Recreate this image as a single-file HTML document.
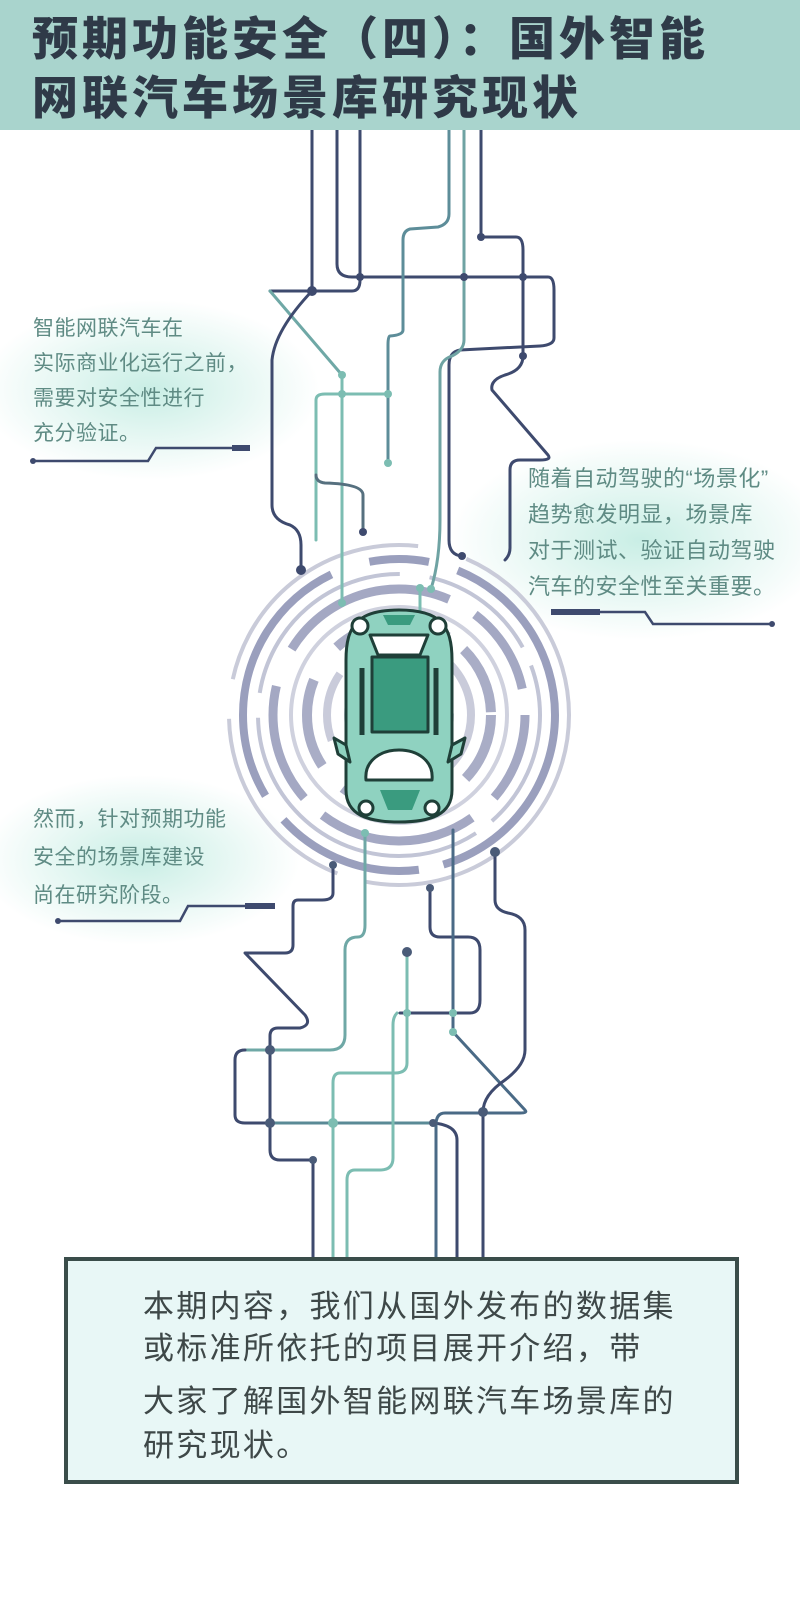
<!DOCTYPE html>
<html><head><meta charset="utf-8"><style>
html,body{margin:0;padding:0}
body{width:800px;height:1600px;position:relative;background:#fff;overflow:hidden;font-family:"Liberation Sans","Noto Sans CJK SC",sans-serif}
.hdr{position:absolute;left:0;top:0;width:800px;height:130px;background:#a9d4cd}
.t{position:absolute;left:32px;font-size:46px;font-weight:900;color:#2f3a48;letter-spacing:4px;white-space:nowrap;line-height:1}
.p{position:absolute;font-size:21px;color:#5f8b84;line-height:35px;white-space:nowrap;letter-spacing:0.5px}
.box{position:absolute;left:64px;top:1257px;width:667px;height:219px;border:4px solid #3a4d4a;background:#e8f7f6}
.bt{position:absolute;left:143px;font-size:31px;color:#3e4848;letter-spacing:2.3px;white-space:nowrap;line-height:1}
</style></head><body>
<svg width="800" height="1600" style="position:absolute;left:0;top:0">
<defs>
<radialGradient id="g1" cx="0.5" cy="0.5" r="0.5"><stop offset="0" stop-color="#c9eee5"/><stop offset="1" stop-color="#c9eee5" stop-opacity="0"/></radialGradient>
</defs>
<ellipse cx="150" cy="390" rx="170" ry="90" fill="url(#g1)"/>
<ellipse cx="640" cy="540" rx="190" ry="100" fill="url(#g1)"/>
<ellipse cx="140" cy="860" rx="160" ry="85" fill="url(#g1)"/>
<g fill="none" transform="translate(399,715)">
<circle r="170" stroke="#c9cbd9" stroke-width="4" stroke-dasharray="300 30 200 40 250 50"/>
<circle r="156" stroke="#9a9fbd" stroke-width="8" stroke-dasharray="200 25 150 30 260 40 60 30"/>
<circle r="141" stroke="#c2c5d6" stroke-width="4" stroke-dasharray="120 20 300 25 200 30"/>
<circle r="126" stroke="#a4a8c3" stroke-width="9" stroke-dasharray="90 30 160 25 120 40 180 30"/>
<circle r="108" stroke="#cfd1de" stroke-width="4"/>
<circle r="92" stroke="#a9adc6" stroke-width="10" stroke-dasharray="70 25 110 30 90 40 120 20"/>
<circle r="72" stroke="#c9cbda" stroke-width="8" stroke-dasharray="60 20 90 30 70 25"/>
<circle r="52" stroke="#d3d5e1" stroke-width="6" stroke-dasharray="40 15 60 20"/>
</g>
<g fill="none" stroke-width="3" stroke-linecap="round" stroke-linejoin="round">
<path d="M312 127 V291 M270 291 H352 Q360 291 360 280 V127" stroke="#3e4a6e"/>
<path d="M270 291 L342 375" stroke="#6fa8a6"/>
<path d="M312 291 Q275 330 272 360 V505 Q272 520 290 525 Q301 530 301 545 V570" stroke="#3e4a6e"/>
<path d="M337 127 V264 Q337 277 352 277 H548 Q554 277 554 290 V338 Q554 345 540 346 L460 350 Q449 352 449 365 V540 Q449 555 462 556" stroke="#3e4a6e"/>
<path d="M449 127 V214 Q449 224 438 227 L410 229 Q403 231 403 240 V330 Q403 335 390 336 Q388 336 388 345 V463" stroke="#5d8d99"/>
<path d="M316 540 V400 Q316 394 325 394 H388 M342 375 V600" stroke="#7cbdb2"/>
<path d="M316 475 Q316 482 325 483 Q363 484 363 495 V532" stroke="#56707f"/>
<path d="M464 127 V277 V340 Q464 350 452 356 Q440 360 440 372 V520 Q440 560 431 589" stroke="#6fa3a3"/>
<path d="M481 127 V237 H516 Q523 237 523 250 V356 Q523 370 505 375 Q490 380 492 390 L548 455 Q552 460 540 460 L520 460 Q510 460 510 470 V548 Q510 555 505 560" stroke="#3e4a6e"/>
<path d="M420 640 V590" stroke="#7cbdb2"/>
</g>
<g fill="#3e4a6e">
<circle cx="312" cy="291" r="5"/><circle cx="360" cy="277" r="4"/><circle cx="464" cy="277" r="4"/><circle cx="523" cy="277" r="4"/>
<circle cx="481" cy="237" r="4"/><circle cx="523" cy="356" r="4"/><circle cx="301" cy="570" r="5"/><circle cx="363" cy="532" r="4"/><circle cx="462" cy="556" r="4"/>
</g>
<g fill="#7cbdb2"><circle cx="342" cy="375" r="4"/><circle cx="342" cy="394" r="4"/><circle cx="388" cy="394" r="4"/><circle cx="388" cy="463" r="4"/><circle cx="431" cy="589" r="4"/><circle cx="342" cy="603" r="4"/><circle cx="420" cy="588" r="4"/></g>
<g fill="none" stroke-width="3" stroke-linecap="round" stroke-linejoin="round">
<path d="M333 865 V893 Q333 900 322 900 H298 Q293 900 293 906 V945 Q293 953 285 953 H245 L305 1015 Q312 1025 300 1028 H278 Q270 1028 270 1036 V1150 Q270 1160 280 1160 H313 V1257" stroke="#3e4a6e"/>
<path d="M245 1050 H270 H330 Q345 1050 345 1035 V950 Q345 937 358 937 Q365 937 365 925 V833" stroke="#6fa8a6"/>
<path d="M245 1050 Q235 1050 235 1060 V1115 Q235 1123 245 1123 H433 Q457 1125 457 1140 V1257" stroke="#3e4a6e"/>
<path d="M270 1123 H433" stroke="#5a8a96"/>
<path d="M407 952 V1063 Q407 1073 395 1073 H340 Q333 1073 333 1083 V1257" stroke="#7cbdb2"/>
<path d="M397 1013 Q393 1017 393 1025 V1158 Q393 1170 380 1170 H355 Q347 1170 347 1180 V1257" stroke="#7cbdb2"/>
<path d="M400 1013 H470 Q480 1013 480 1000 V950 Q480 937 468 937 H440 Q430 937 430 927 V888" stroke="#3e4a6e"/>
<path d="M453 830 V1032 L525 1110 Q528 1113 520 1113 H445 Q436 1113 436 1125 V1257" stroke="#4a6a86"/>
<path d="M495 852 V900 Q495 910 508 913 Q525 916 525 930 V1050 Q525 1065 505 1080 Q483 1095 483 1112 V1257" stroke="#3e4a6e"/>
</g>
<g fill="#4a5b78"><circle cx="333" cy="865" r="4"/><circle cx="270" cy="1050" r="5"/><circle cx="270" cy="1123" r="5"/><circle cx="313" cy="1160" r="4"/><circle cx="407" cy="952" r="5"/><circle cx="430" cy="888" r="4"/><circle cx="495" cy="852" r="5"/><circle cx="483" cy="1112" r="5"/><circle cx="433" cy="1123" r="4"/></g>
<g fill="#7cbdb2"><circle cx="333" cy="1123" r="5"/><circle cx="407" cy="1013" r="4"/><circle cx="453" cy="1013" r="4"/><circle cx="453" cy="1032" r="4"/><circle cx="365" cy="833" r="4"/></g>
<g fill="none" stroke="#3e4a6e" stroke-width="2.5">
<path d="M33 461 H148 L156 448 H250"/><path d="M232 448 H250" stroke-width="6"/>
<path d="M58 921 H180 L188 906 H275"/><path d="M245 906 H275" stroke-width="6"/>
<path d="M551 612 H645 L653 624 H772"/><path d="M551 612 H600" stroke-width="6"/>
</g>
<g fill="#3e4a6e"><circle cx="33" cy="461" r="3"/><circle cx="58" cy="921" r="3"/><circle cx="772" cy="624" r="3"/></g>
<g stroke="#1f3f38" stroke-width="3" stroke-linejoin="round">
<path d="M399 610 C440 610 452 625 452 660 V790 C452 815 430 822 399 822 C368 822 346 815 346 790 V660 C346 625 358 610 399 610 Z" fill="#8fd2c0"/>
<path d="M346 745 L334 738 L338 754 L350 762 Z M452 745 L465 738 L461 754 L448 762 Z" fill="#8fd2c0"/>
<path d="M370 635 H428 L420 655 H378 Z" fill="#fff"/>
<rect x="372" y="657" width="56" height="75" fill="#3a9b7f"/>
<path d="M366 780 C362 740 436 740 432 780 Z" fill="#fff"/>
<path d="M362 668 V735 M436 668 V735" stroke-width="5" stroke="#1f3f38"/>
<circle cx="360" cy="626" r="8" fill="#fff"/><circle cx="438" cy="626" r="8" fill="#fff"/>
<circle cx="366" cy="808" r="7" fill="#fff"/><circle cx="432" cy="808" r="7" fill="#fff"/>
</g>
<path d="M380 790 H420 L412 810 H388 Z" fill="#3a9b7f"/>
<path d="M383 615 H415 L410 625 H388 Z" fill="#3a9b7f"/>
</svg>
<div class="hdr"></div>
<div class="t" style="top:16px">预期功能安全（四）：国外智能</div>
<div class="t" style="top:75px">网联汽车场景库研究现状</div>
<div class="p" style="left:33px;top:311px">智能网联汽车在<br>实际商业化运行之前，<br>需要对安全性进行<br>充分验证。</div>
<div class="p" style="left:528px;top:461px;line-height:36px;font-size:22px">随着自动驾驶的“场景化”<br>趋势愈发明显，场景库<br>对于测试、验证自动驾驶<br>汽车的安全性至关重要。</div>
<div class="p" style="left:33px;top:801px;line-height:38px">然而，针对预期功能<br>安全的场景库建设<br>尚在研究阶段。</div>
<div class="box"></div>
<div class="bt" style="top:1291px">本期内容，我们从国外发布的数据集</div>
<div class="bt" style="top:1333px">或标准所依托的项目展开介绍，带</div>
<div class="bt" style="top:1386px">大家了解国外智能网联汽车场景库的</div>
<div class="bt" style="top:1430px">研究现状。</div>
</body></html>
